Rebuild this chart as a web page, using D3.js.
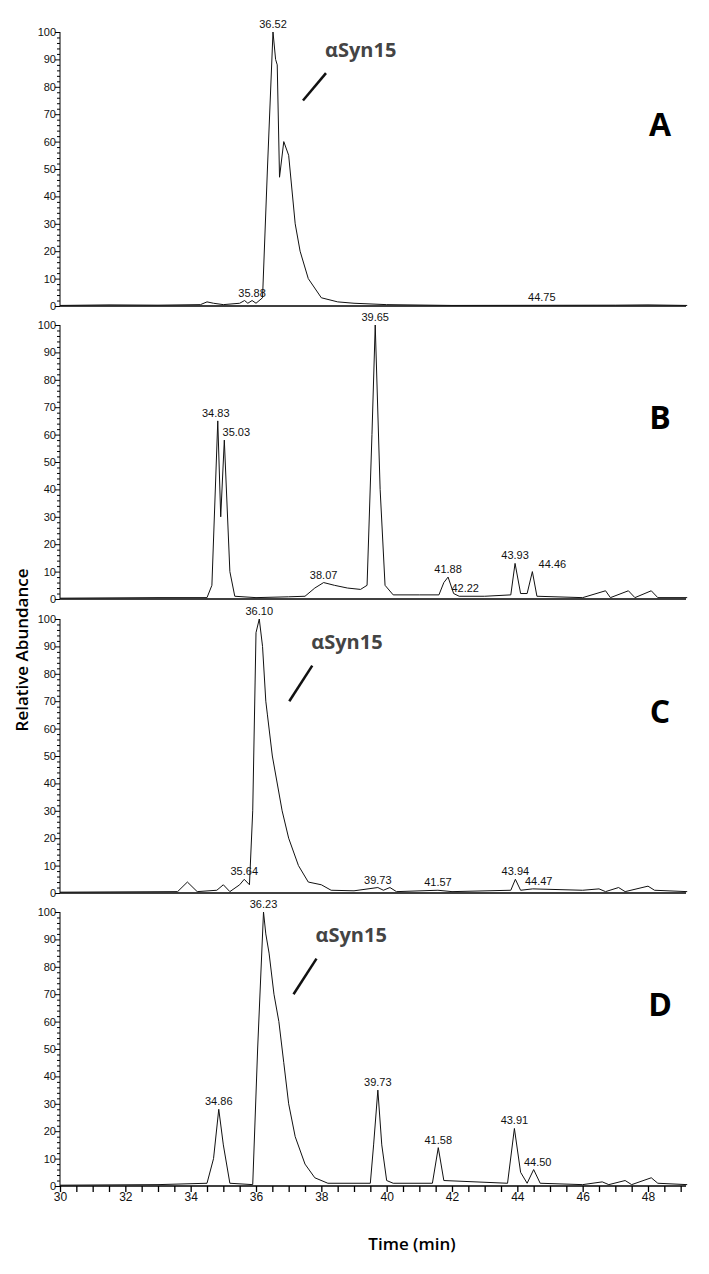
<!DOCTYPE html><html><head><meta charset="utf-8">
<script src="https://cdn.jsdelivr.net/npm/d3@7"></script>
<style>body{margin:0;background:#fff}</style></head><body>
<svg id="c" width="709" height="1274"></svg>
<script>
const panelNames=["A","B","C","D"];
const traceA=[[30,0.2],[31.5,0.4],[33,0.3],[34.3,0.5],[34.5,1.5],[34.7,1],[35,0.5],[35.5,1],[35.65,2],[35.75,1],[35.88,2],[36.0,1],[36.2,3],[36.35,50],[36.52,100],[36.6,90],[36.65,88],[36.72,47],[36.85,60],[37.0,55],[37.2,30],[37.35,20],[37.6,10],[38.0,3],[38.5,1.5],[39,1],[40,0.5],[42,0.2],[47,0.3],[48,0.4],[49.2,0.2]];
const traceB=[[30,0.3],[33,0.5],[34.5,0.5],[34.65,5],[34.83,65],[34.92,30],[35.03,58],[35.2,10],[35.35,1],[36,0.5],[37,0.8],[37.5,1],[37.8,4],[38.07,6],[38.4,5],[38.8,4],[39.2,3.5],[39.4,5],[39.55,60],[39.65,100],[39.8,40],[39.95,5],[40.2,1.5],[41,1.5],[41.6,1.5],[41.75,6],[41.88,8],[42.05,2],[42.22,1],[43,1],[43.8,1.5],[43.93,13],[44.1,2],[44.3,2],[44.46,10],[44.6,1],[46,0.5],[46.7,3],[46.85,0.5],[47.4,3],[47.6,0.5],[48.1,3],[48.3,0.5],[49.2,0.5]];
const traceC=[[30,0.3],[33.6,0.5],[33.9,4],[34.2,0.5],[34.8,1],[35.0,3],[35.2,0.5],[35.5,3],[35.64,5],[35.8,3],[35.9,30],[36.0,95],[36.1,100],[36.2,90],[36.3,70],[36.35,65],[36.5,50],[36.8,30],[37.0,20],[37.3,10],[37.6,4],[38,3],[38.3,1],[39,0.8],[39.73,2],[39.9,1],[40.1,2],[40.3,0.5],[41.57,1],[42,0.5],[43.8,1],[43.94,5],[44.1,1],[44.47,1.5],[46,1],[46.5,1.5],[46.7,0.5],[47.1,2],[47.3,0.5],[48.0,2.5],[48.2,1],[49.2,0.5]];
const traceD=[[30,0.3],[33,0.5],[34.5,1],[34.7,10],[34.86,28],[35.0,15],[35.2,1],[35.9,0.5],[36.05,50],[36.23,100],[36.3,92],[36.4,85],[36.55,70],[36.7,60],[36.85,45],[37.0,30],[37.2,18],[37.5,8],[37.8,3],[38.2,1],[39.5,1],[39.6,15],[39.73,35],[39.85,15],[40.0,2],[40.2,1],[41.4,1],[41.58,14],[41.75,2],[43.7,1],[43.91,21],[44.1,5],[44.3,1],[44.5,6],[44.7,1],[46,0.5],[46.6,1.5],[46.8,0.5],[47.3,2],[47.5,0.5],[48.1,3],[48.3,1],[49.2,0.5]];
const peakLabels=[
 [[35.88,2,"35.88",0],[36.52,100,"36.52",0],[44.75,0.2,"44.75",0]],
 [[34.83,65,"34.83",-2],[35.03,58,"35.03",12],[38.07,6,"38.07",0],[39.65,100,"39.65",0],[41.88,8,"41.88",0],[42.22,1,"42.22",6],[43.93,13,"43.93",0],[44.46,10,"44.46",20]],
 [[35.64,5,"35.64",0],[36.10,100,"36.10",0],[39.73,2,"39.73",0],[41.57,1,"41.57",0],[43.94,5,"43.94",0],[44.47,1.5,"44.47",6]],
 [[34.86,28,"34.86",0],[36.23,100,"36.23",0],[39.73,35,"39.73",0],[41.58,14,"41.58",0],[43.91,21,"43.91",0],[44.50,6,"44.50",4]]];
const annot=["αSyn15",null,"αSyn15","αSyn15"];
const xTickLabels=[30,32,34,36,38,40,42,44,46,48];
const yTickLabels=[0,10,20,30,40,50,60,70,80,90,100];
const traces=[traceA,traceB,traceC,traceD];

const svg=d3.select("#c");
const x=d3.scaleLinear().domain([30,48]).range([60,648]);
const xEnd=686;
const tops=[32,325,619,912], H=274;
const lf="'Liberation Sans Narrow','Arial Narrow','Liberation Sans',sans-serif";
traces.forEach((tr,i)=>{
 const y=d3.scaleLinear().domain([0,100]).range([tops[i]+H,tops[i]]);
 const g=svg.append("g");
 const ya=g.append("g").attr("transform",`translate(${x(30)},0)`)
  .call(d3.axisLeft(y).tickValues(d3.range(0,101,2)).tickSize(3).tickFormat(d=>yTickLabels.includes(d)?d:""));
 ya.selectAll(".tick line").attr("x2",d=>d%10===0?-5:-3);
 ya.selectAll("text").attr("font-family",lf).attr("font-size",11).attr("dx",2).attr("fill","#111");
 ya.select(".domain").attr("d",`M0,${y(100)}V${y(0)}`);
 g.append("line").attr("x1",x(30)).attr("x2",xEnd).attr("y1",y(0)).attr("y2",y(0)).attr("stroke","#000").attr("stroke-width",1.5);
 const line=d3.line().x(d=>x(d[0])).y(d=>y(d[1]));
 g.append("path").datum(tr).attr("d",line).attr("fill","none").attr("stroke","#111").attr("stroke-width",1);
 peakLabels[i].forEach(p=>{
  g.append("text").attr("x",x(p[0])+p[3]).attr("y",y(p[1])-4).attr("text-anchor","middle")
   .attr("font-family",lf).attr("font-size",11).attr("fill","#111").text(p[2]);
 });
 g.append("text").attr("x",660).attr("y",y(62)).attr("text-anchor","middle")
  .attr("font-family","'Open Sans',sans-serif").attr("font-weight",700).attr("font-size",32).text(panelNames[i]);
 if(annot[i]){
  const base=i===0?x(36.52):x(i===2?36.1:36.23);
  const ax=base+20;
  g.append("text").attr("x",ax+32).attr("y",y(i===0?91:89)).attr("font-family","'Open Sans',sans-serif")
   .attr("font-weight",700).attr("font-size",20).attr("fill","#444").text(annot[i]);
  g.append("line").attr("x1",ax+33).attr("y1",y(i===0?85:83)).attr("x2",ax+10).attr("y2",y(i===0?75:70))
   .attr("stroke","#111").attr("stroke-width",2.5);
 }
 if(i===3){
  const xa=g.append("g").attr("transform",`translate(0,${y(0)})`)
   .call(d3.axisBottom(x).tickValues(d3.range(30,49.1,0.5)).tickSize(6).tickFormat(d=>xTickLabels.includes(d)?d:""));
  xa.select(".domain").remove();
  xa.selectAll(".tick line").attr("stroke-width",1.3);
  xa.selectAll("text").attr("font-family",lf).attr("font-size",12).attr("dy",6).attr("fill","#111");
 }
});
svg.append("text").attr("transform","translate(28,650) rotate(-90)").attr("text-anchor","middle")
 .attr("font-family","'Open Sans',sans-serif").attr("font-size",17).attr("font-weight",600).text("Relative Abundance");
svg.append("text").attr("x",412).attr("y",1250).attr("text-anchor","middle")
 .attr("font-family","'Open Sans',sans-serif").attr("font-size",17).attr("font-weight",600).text("Time (min)");
</script></body></html>
